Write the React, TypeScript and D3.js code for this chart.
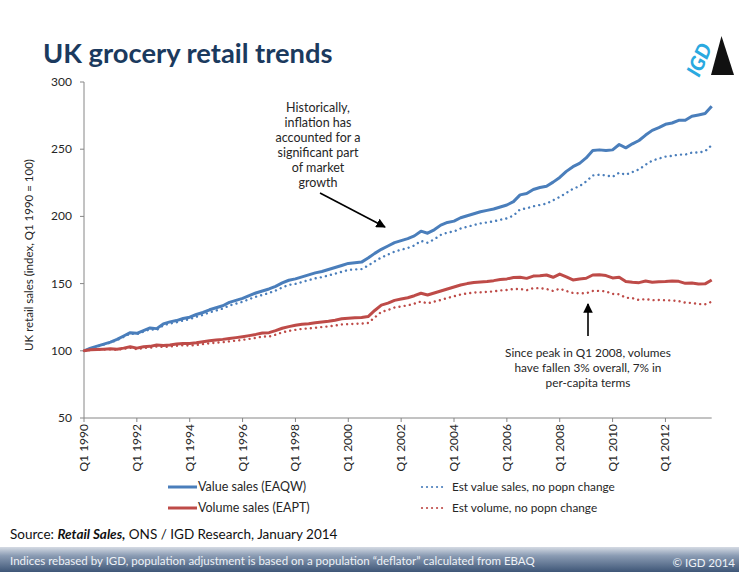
import React from 'react';
import * as d3 from 'd3';

const years = d3.range(1990, 2014);
const categories = years.flatMap((y) => ['Q1', 'Q2', 'Q3', 'Q4'].map((q) => `${q} ${y}`));
const tickLabels = ['Q1 1990', 'Q1 1992', 'Q1 1994', 'Q1 1996', 'Q1 1998', 'Q1 2000', 'Q1 2002', 'Q1 2004', 'Q1 2006', 'Q1 2008', 'Q1 2010', 'Q1 2012'];
const yTicks = [50, 100, 150, 200, 250, 300];

const valueSales = [
  100, 102, 103.5, 105, 106.5, 108.5, 111, 113.5,
  113, 115, 117, 116.5, 120, 121.5, 122.5, 124,
  125, 127, 128.5, 130.5, 132, 133.5, 136, 137.5,
  139, 141, 143, 144.5, 146, 148, 150.5, 152.5,
  153.5, 155, 156.5, 158, 159, 160.5, 162, 163.5,
  165, 165.5, 166, 169, 172.5, 175.5, 178, 180.5,
  182, 183.5, 185.5, 189, 187.5, 190, 193.5, 195.5,
  196.5, 199, 200.5, 202, 203.5, 204.5, 205.5, 207,
  208.5, 211, 216, 217, 220, 221.5, 222.5, 225.5,
  229, 233.5, 237, 239.5, 243.5, 249, 249.5, 249,
  249.5, 253.5, 251, 254, 256.5, 260.5, 264, 266,
  268.5, 269.5, 271.5, 271.5, 274.5, 275.5, 276.5, 282,
];

const estValueSales = [
  100, 101.8, 103.2, 104.7, 106, 108, 110.3, 112.8,
  112.3, 114.2, 116, 115.5, 119, 120.3, 121.2, 122.6,
  123.5, 125.3, 126.7, 128.6, 130, 131.4, 133.7, 135.1,
  136.5, 138.4, 140.2, 141.6, 143, 144.8, 147.1, 149,
  149.8, 151.2, 152.6, 153.9, 154.8, 156.1, 157.4, 158.8,
  160.2, 160.5, 160.8, 163.4, 166.6, 169.4, 171.6, 173.8,
  175.2, 176.5, 178.4, 181.8, 180.4, 182.9, 186.2, 188,
  188.8, 191, 192.3, 193.6, 194.8, 195.5, 196.3, 197.5,
  198.5, 200.6, 205.2, 206, 207.5, 208.5, 209.5, 212,
  214.5, 217.5, 220.5, 222.5, 226, 230.5, 231, 230.5,
  229.5, 232.5, 231, 233, 235, 238.5, 241.5, 243,
  244.5, 245, 246, 246, 247.5, 247.5, 248.5, 253,
];

const volumeSales = [
  100, 100.8, 101, 101.2, 101.5, 101.2, 102, 103,
  102, 103, 103.3, 104.3, 104, 104.3, 105, 105.5,
  105.5, 106, 106.8, 107.5, 108, 108.5, 109.2, 109.8,
  110.5, 111.3, 112.2, 113.3, 113.5, 115, 116.8, 118,
  119, 119.8, 120.2, 120.8, 121.5, 122, 122.8, 123.8,
  124.2, 124.5, 124.8, 125.5, 130, 134, 135.5, 137.5,
  138.5, 139.5, 141, 142.8, 141.5, 143, 144.5, 146,
  147.5, 149, 150, 150.8, 151.2, 151.6, 152.2, 153,
  153.5, 154.5, 154.7, 153.9, 155.6, 155.8, 156.4, 154.7,
  157.1, 155, 152.7, 153.5, 154, 156.4, 156.5, 156,
  154.2, 154.8, 151.6, 151, 150.7, 151.9, 151, 151.4,
  151.5, 151.9, 151.7, 150.2, 150.5, 149.7, 149.8, 152.7,
];

const estVolume = [
  100, 100.7, 100.8, 100.9, 101.1, 100.7, 101.4, 102.3,
  101.2, 102.1, 102.3, 103.2, 102.8, 103.1, 103.7, 104.1,
  103.9, 104.3, 105, 105.6, 106, 106.4, 107, 107.5,
  108.1, 108.8, 109.6, 110.6, 110.6, 112, 113.7, 114.8,
  115.6, 116.3, 116.6, 117.1, 117.7, 118.1, 118.8, 119.6,
  119.8, 120, 120.2, 120.7, 124.8, 129, 130.3, 132.2,
  133, 133.8, 135.1, 136.7, 135.3, 136.6, 137.8, 139.3,
  140.6, 141.9, 142.7, 143.3, 143.5, 143.8, 144.2, 144.9,
  145.2, 146, 146, 145.1, 146.6, 146.6, 146, 144.5,
  146.2, 144.5, 143, 142.8, 142.8, 144.5, 144.6, 144.2,
  142.3, 142, 139.5, 139.2, 137.8, 138.5, 137.7, 137.8,
  137.6, 137.4, 137, 135.8, 135.6, 134.8, 134.6, 136.5,
];

const BLUE = '#4A7EBB';
const RED = '#BE4B48';
const FONT = 'Lato, "Open Sans", sans-serif';
const TEXT = '#262626';

export default function App() {
  const W = 739;
  const H = 572;
  const x = d3.scalePoint<string>().domain(categories).range([84, 711.7]).padding(0);
  const y = d3.scaleLinear().domain([50, 300]).range([418, 82]);

  const line = d3
    .line<number>()
    .x((_, i) => x(categories[i]) as number)
    .y((d) => y(d));

  const series = [
    { data: valueSales, color: BLUE, dotted: false },
    { data: estValueSales, color: BLUE, dotted: true },
    { data: volumeSales, color: RED, dotted: false },
    { data: estVolume, color: RED, dotted: true },
  ];

  const dotDash = '0.01 5.2';

  return (
    <svg
      width={W}
      height={H}
      viewBox={`0 0 ${W} ${H}`}
      style={{ position: 'fixed', left: 0, top: 0, background: '#fff' }}
      fontFamily={FONT}
    >
      <defs>
        <linearGradient id="foot" x1="0" y1="0" x2="0" y2="1">
          <stop offset="0" stopColor="#D5DBE4" />
          <stop offset="0.35" stopColor="#8A9BB3" />
          <stop offset="1" stopColor="#3E5677" />
        </linearGradient>
        <marker id="arr" viewBox="0 0 10 10" refX="9" refY="5" markerWidth="6" markerHeight="6" orient="auto">
          <path d="M0,0 L10,5 L0,10 z" fill="#000" />
        </marker>
      </defs>
      <rect x={0} y={0} width={W} height={H} fill="#fff" />

      {/* Title */}
      <text x={43} y={63} fontSize={27.3} fontWeight={700} fill="#1B3A5E">
        UK grocery retail trends
      </text>

      {/* Logo */}
      <g>
        <path d="M711,75 L721.5,36 L734,75 Z" fill="#111" />
        <text
          transform="translate(699,78) rotate(-66)"
          fontSize={20}
          fontWeight={900}
          fontStyle="italic"
          fill="#2AA9E0"
          stroke="#fff"
          strokeWidth={0.8}
          paintOrder="stroke"
        >
          IGD
        </text>
      </g>

      {/* Y axis */}
      <line x1={84} x2={84} y1={82} y2={418} stroke="#868686" strokeWidth={1} />
      {yTicks.map((t) => (
        <g key={t}>
          <line x1={80} x2={84} y1={y(t)} y2={y(t)} stroke="#868686" />
          <text x={72} y={y(t) + 4} textAnchor="end" fontSize={12} fill={TEXT}>
            {t}
          </text>
        </g>
      ))}
      <text
        transform="translate(33,255) rotate(-90)"
        textAnchor="middle"
        fontSize={11.5}
        fill={TEXT}
      >
        UK retail sales (index, Q1 1990 = 100)
      </text>

      {/* X axis */}
      <line x1={84} x2={711.7} y1={418} y2={418} stroke="#868686" />
      {tickLabels.map((lab) => {
        const px = x(lab) as number;
        return (
          <g key={lab}>
            <line x1={px} x2={px} y1={418} y2={422} stroke="#868686" />
            <text
              transform={`translate(${px + 4},424) rotate(-90)`}
              textAnchor="end"
              fontSize={12}
              fill={TEXT}
            >
              {lab}
            </text>
          </g>
        );
      })}

      {/* Series */}
      {series.map((s, i) => (
        <path
          key={i}
          d={line(s.data) as string}
          fill="none"
          stroke={s.color}
          strokeWidth={s.dotted ? 2.4 : 3}
          strokeLinejoin="round"
          strokeLinecap={s.dotted ? 'round' : 'butt'}
          strokeDasharray={s.dotted ? dotDash : undefined}
        />
      ))}

      {/* Annotation 1 */}
      <text textAnchor="middle" fontSize={12.5} fill={TEXT}>
        {['Historically,', 'inflation has', 'accounted for a', 'significant part', 'of market', 'growth'].map((l, i) => (
          <tspan key={i} x={318} y={112 + i * 15}>
            {l}
          </tspan>
        ))}
      </text>
      <line x1={320} y1={193} x2={385} y2={227} stroke="#000" strokeWidth={1.6} markerEnd="url(#arr)" />

      {/* Annotation 2 */}
      <line x1={588} y1={336} x2={588} y2={304} stroke="#000" strokeWidth={1.6} markerEnd="url(#arr)" />
      <text textAnchor="middle" fontSize={11.8} fill={TEXT}>
        {['Since peak in Q1 2008, volumes', 'have fallen 3% overall, 7% in', 'per-capita terms'].map((l, i) => (
          <tspan key={i} x={588} y={357 + i * 15}>
            {l}
          </tspan>
        ))}
      </text>

      {/* Legend */}
      <g fill={TEXT}>
        <line x1={168} x2={197} y1={487} y2={487} stroke={BLUE} strokeWidth={3} />
        <text x={198} y={491} fontSize={12.5}>Value sales (EAQW)</text>
        <line x1={168} x2={197} y1={508} y2={508} stroke={RED} strokeWidth={3} />
        <text x={198} y={512} fontSize={12.5}>Volume sales (EAPT)</text>
        <line x1={422} x2={447} y1={487} y2={487} stroke={BLUE} strokeWidth={2.2} strokeDasharray="0.01 5" strokeLinecap="round" />
        <text x={452} y={491} fontSize={11.8}>Est value sales, no popn change</text>
        <line x1={422} x2={447} y1={508} y2={508} stroke={RED} strokeWidth={2.2} strokeDasharray="0.01 5" strokeLinecap="round" />
        <text x={452} y={512} fontSize={11.8}>Est volume, no popn change</text>
      </g>

      {/* Source */}
      <text x={10} y={539} fontSize={13.5} fill="#111">
        Source: <tspan fontStyle="italic" fontWeight={700}>Retail Sales,</tspan> ONS / IGD Research, January 2014
      </text>

      {/* Footer */}
      <rect x={0} y={547} width={W} height={25} fill="url(#foot)" />
      <text x={10} y={565} fontSize={11.5} fill="#EEF2F7">
        Indices rebased by IGD, population adjustment is based on a population “deflator” calculated from EBAQ
      </text>
      <text x={735} y={567} fontSize={11.5} fill="#EEF2F7" textAnchor="end">
        © IGD 2014
      </text>
    </svg>
  );
}
